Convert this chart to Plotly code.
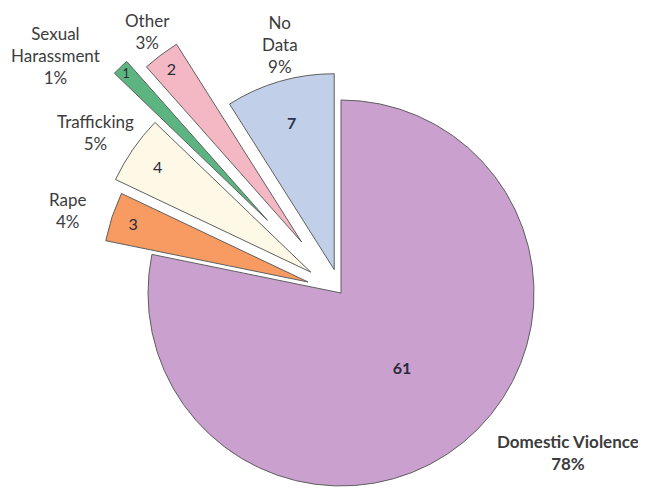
import math
import plotly.graph_objects as go

# ---- data ----
labels = ["Domestic Violence", "Rape", "Trafficking", "Sexual Harassment", "Other", "No Data"]
label_text = ["Domestic Violence", "Rape", "Trafficking", "Sexual<br>Harassment", "Other", "No<br>Data"]
values = [61, 3, 4, 1, 2, 7]
colors = ["#C9A0CE", "#F79B63", "#FEF8E6", "#5CB581", "#F4B8C4", "#C2CFE8"]

# ---- layout / geometry (styles) ----
PAGE_OFF = 8                      # default body margin of the page
W, H = 646 - PAGE_OFF, 489 - PAGE_OFF
base_cx, base_cy, base_r = 341, 293, 193     # page-pixel centre/radius of the main pie
pulls = [0.0, 0.18, 0.19, 0.55, 0.34, 0.126]  # explode distance as a fraction of base radius
scales = [1.0, 1.07, 1.12, 1.12, 1.22, 1.015]  # relative radius of each exploded slice


def px_x(x):
    return (x - PAGE_OFF) / W


def px_y(y):
    return 1 - (y - PAGE_OFF) / H


total = sum(values)
pcts = [round(v / total * 100) for v in values]

fig = go.Figure()
start = 0.0
for i, v in enumerate(values):
    span = v / total * 360.0
    mid = math.radians(start + span / 2.0)
    start += span
    d = pulls[i] * base_r
    cx = base_cx + d * math.sin(mid)
    cy = base_cy - d * math.cos(mid)
    r = scales[i] * base_r
    x0 = max(0.0, px_x(cx - r))
    x1 = min(1.0, px_x(cx + r))
    y0 = max(0.0, px_y(cy + r))
    y1 = min(1.0, px_y(cy - r))
    fill = [c if j == i else "rgba(0,0,0,0)" for j, c in enumerate(colors)]
    lines = ["#5f5f5f" if j == i else "rgba(0,0,0,0)" for j in range(len(values))]
    tmpl = [("<b>%{value}</b>" if (j == 0 or j == 5) else "%{value}") if j == i else ""
            for j in range(len(values))]
    fig.add_trace(go.Pie(
        labels=labels, values=values, sort=False, direction="clockwise", rotation=0,
        marker=dict(colors=fill, line=dict(color=lines, width=1)),
        texttemplate=tmpl, textposition="inside", insidetextorientation="horizontal",
        textfont=dict(family="Lato, sans-serif", size=16,
                      color="#2b2b3a" if i != 5 else "#2a3350"),
        domain=dict(x=[x0, x1], y=[y0, y1]),
        showlegend=False, hoverinfo="label+value+percent",
    ))

# outside labels (page-pixel text centres)
label_pos = [(568, 452), (68, 210), (95, 133), (55, 55), (147, 31), (280, 44)]
annotations = []
for i, (px, py) in enumerate(label_pos):
    txt = f"{label_text[i]}<br>{pcts[i]}%"
    if i == 0:
        txt = f"<b>{label_text[i]}<br>{pcts[i]}%</b>"
    annotations.append(dict(
        x=px_x(px), y=px_y(py), xref="paper", yref="paper", text=txt, showarrow=False,
        xanchor="center", yanchor="middle", align="center",
        font=dict(family="Lato, sans-serif", size=17, color="#3c3c3c"),
    ))

fig.update_layout(
    width=W, height=H, margin=dict(l=0, r=0, t=0, b=0),
    paper_bgcolor="white", plot_bgcolor="white",
    annotations=annotations, showlegend=False,
)
fig.write_html("out.html")
